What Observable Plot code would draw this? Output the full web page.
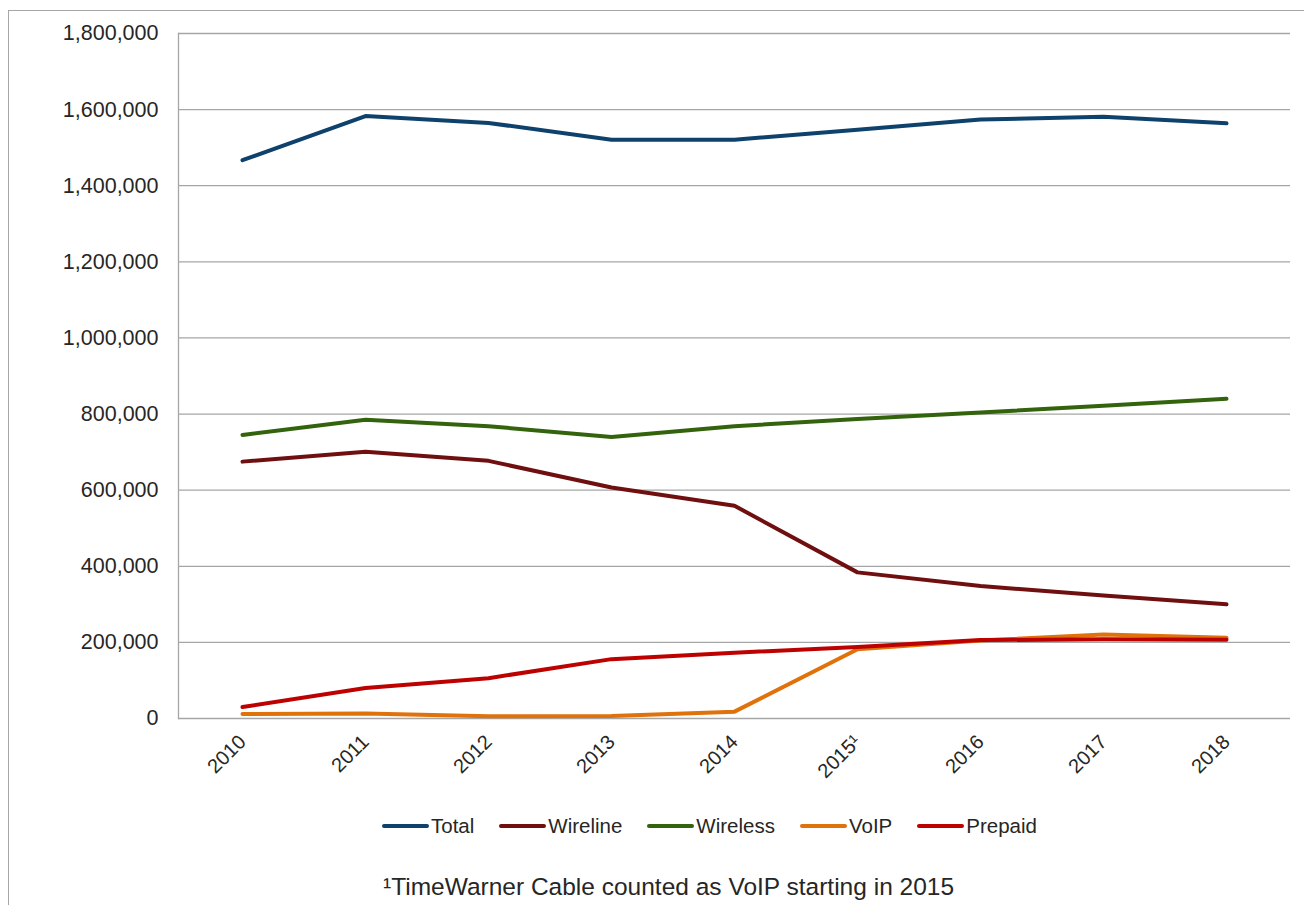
<!DOCTYPE html>
<html>
<head>
<meta charset="utf-8">
<script src="https://cdn.jsdelivr.net/npm/d3@7"></script>
<script src="https://cdn.jsdelivr.net/npm/@observablehq/plot@0.6"></script>
<style>
  html, body { margin: 0; padding: 0; background: #fff; }
  body { position: relative; width: 1304px; height: 905px; overflow: hidden;
         font-family: "Liberation Sans", Arial, sans-serif; color: #262626; }
  #frame { position: absolute; left: 8px; top: 10px; width: 1400px; height: 1000px;
           border-left: 1.5px solid #a6a6a6; border-top: 1.5px solid #a6a6a6; }
  #chart { position: absolute; left: 0; top: 0; }
  #legend { position: absolute; left: 382px; top: 814px; display: flex; align-items: center;
            font-size: 20.5px; line-height: 24px; }
  #legend .item { display: flex; align-items: center; margin-right: 25px; }
  #legend .sw { width: 47px; height: 4px; border-radius: 2px; margin-right: 2px; }
  #note { position: absolute; left: 383px; top: 872px; font-size: 24.5px; line-height: 30px; }
</style>
</head>
<body>
<div id="frame"></div>
<div id="chart"></div>
<div id="legend"></div>
<div id="note">¹TimeWarner Cable counted as VoIP starting in 2015</div>
<script>
// Subscriber counts by year, 2010–2018
const years = ["2010", "2011", "2012", "2013", "2014", "2015¹", "2016", "2017", "2018"];
const total    = [1467000, 1583000, 1565000, 1521000, 1521000, 1547000, 1574000, 1581000, 1564000];
const wireline = [675000, 701000, 677000, 607000, 559000, 384000, 348000, 323000, 300000];
const wireless = [745000, 785000, 768000, 740000, 768000, 787000, 804000, 822000, 840000];
const voip     = [12000, 13000, 6000, 6500, 18000, 182000, 205000, 221000, 212000];
const prepaid  = [30000, 80000, 106000, 156000, 173000, 188000, 206000, 208000, 207000];

const seriesNames = ["Total", "Wireline", "Wireless", "VoIP", "Prepaid"];
const seriesColors = ["#0e416c", "#700f0f", "#33630c", "#e0720b", "#bd0000"];
const yTicks = [0, 200000, 400000, 600000, 800000, 1000000, 1200000, 1400000, 1600000, 1800000];

const seriesValues = [total, wireline, wireless, voip, prepaid];
const rows = seriesNames.flatMap((name, i) =>
  years.map((year, j) => ({series: name, year, value: seriesValues[i][j]}))
);

const chart = Plot.plot({
  width: 1304,
  height: 800,
  marginLeft: 178,
  marginRight: 14,
  marginTop: 33,
  marginBottom: 82,
  style: {fontFamily: "'Liberation Sans', Arial, sans-serif", fontSize: "20px", color: "#262626", background: "transparent"},
  x: {type: "point", domain: years, padding: 0.5, label: null},
  y: {domain: [0, 1800000], label: null},
  color: {domain: seriesNames, range: seriesColors},
  marks: [
    Plot.ruleY(yTicks, {stroke: "#a6a6a6", strokeWidth: 1.3}),
    Plot.frame({anchor: "left", stroke: "#a6a6a6", strokeWidth: 1.3}),
    Plot.axisY({ticks: yTicks, tickSize: 0, tickPadding: 20, tickFormat: d3.format(","), fontSize: 21.5, label: null}),
    Plot.axisX({tickSize: 0, tickRotate: -45, tickPadding: 20, fontSize: 20, label: null}),
    Plot.line(rows, {x: "year", y: "value", z: "series", stroke: "series", strokeWidth: 4,
                     strokeLinejoin: "round", strokeLinecap: "round"})
  ]
});
document.getElementById("chart").appendChild(chart);

// Legend below the plot
const legend = document.getElementById("legend");
seriesNames.forEach((name, i) => {
  const item = document.createElement("div");
  item.className = "item";
  const sw = document.createElement("span");
  sw.className = "sw";
  sw.style.background = seriesColors[i];
  const label = document.createElement("span");
  label.textContent = name;
  item.append(sw, label);
  legend.appendChild(item);
});
</script>
</body>
</html>
